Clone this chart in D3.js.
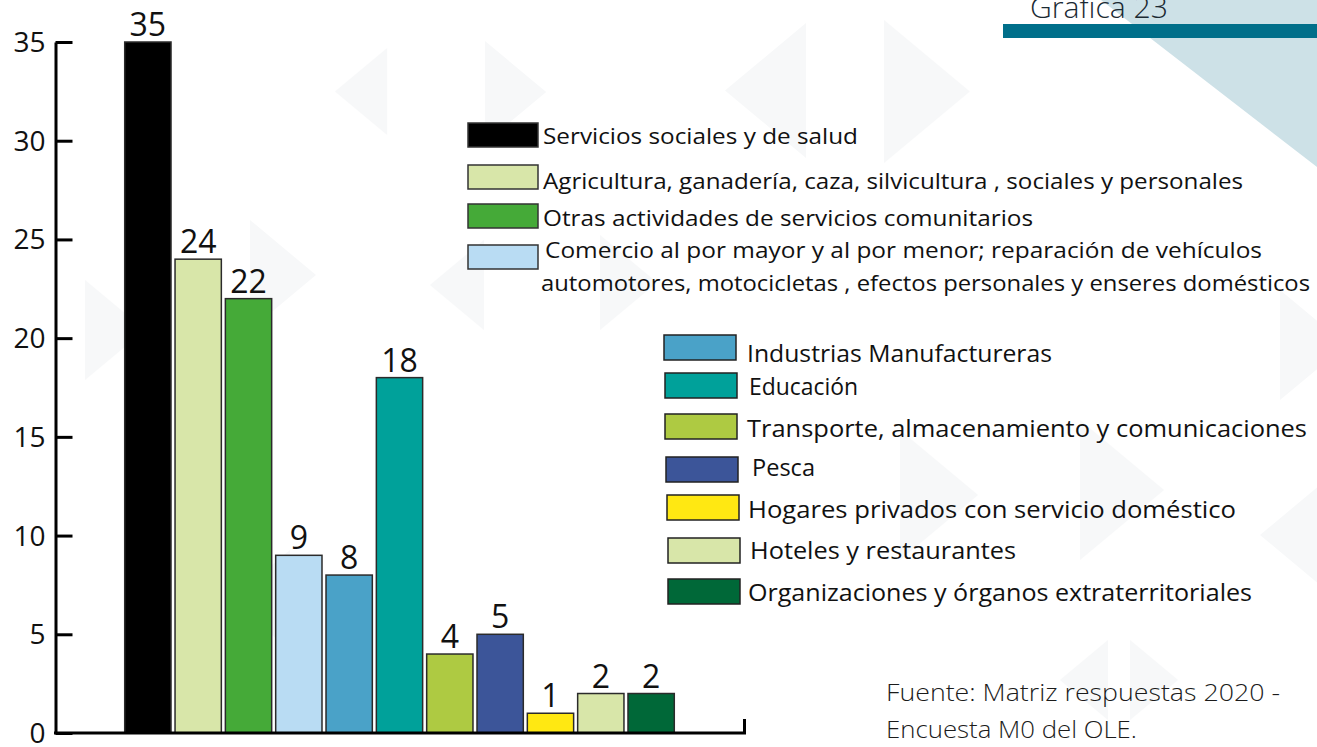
<!DOCTYPE html>
<html>
<head>
<meta charset="utf-8">
<script src="https://cdn.jsdelivr.net/npm/d3@7"></script>
<style>
  html, body { margin: 0; padding: 0; background: #ffffff; }
  svg { display: block; font-family: "Open Sans", "Noto Sans", sans-serif; }
</style>
</head>
<body>
<svg id="chart" width="1317" height="747"></svg>
<script>
// ---- data ----
const categories = [
  "Servicios sociales y de salud",
  "Agricultura, ganadería, caza, silvicultura , sociales y personales",
  "Otras actividades de servicios comunitarios",
  "Comercio al por mayor y al por menor;  reparación de vehículos automotores, motocicletas , efectos personales y enseres domésticos",
  "Industrias Manufactureras",
  "Educación",
  "Transporte, almacenamiento y comunicaciones",
  "Pesca",
  "Hogares privados con servicio doméstico",
  "Hoteles y restaurantes",
  "Organizaciones y órganos extraterritoriales"
];
const values = [35, 24, 22, 9, 8, 18, 4, 5, 1, 2, 2];
const colors = ["#000000", "#d8e6a9", "#45aa38", "#b9dcf3", "#4aa2c8", "#00a19a",
                "#aeca42", "#3c5599", "#ffe812", "#d8e6a9", "#006838"];
const yTicks = [0, 5, 10, 15, 20, 25, 30, 35];
const legendLines1 = [
  ["Servicios sociales y de salud"],
  ["Agricultura, ganadería, caza, silvicultura , sociales y personales"],
  ["Otras actividades de servicios comunitarios"],
  ["Comercio al por mayor y al por menor;  reparación de vehículos",
   "automotores, motocicletas , efectos personales y enseres domésticos"]
];
const legendLines2 = [
  "Industrias Manufactureras",
  "Educación",
  "Transporte, almacenamiento y comunicaciones",
  "Pesca",
  "Hogares privados con servicio doméstico",
  "Hoteles y restaurantes",
  "Organizaciones y órganos extraterritoriales"
];
const titleText = "Gráfica 23";
const sourceLines = ["Fuente:  Matriz respuestas 2020 -", "Encuesta M0 del OLE."];

// ---- layout ----
const svg = d3.select("#chart");
const axisX = 55.5, plotRight = 746, yTop = 42, yBottom = 733;

// decoration: faint triangles
const deco = svg.append("g");
const tri = [
  {x: 335, y0: 48, y1: 135, dir: -1}, {x: 485, y0: 41, y1: 143, dir: 1},
  {x: 725, y0: 23, y1: 158, dir: -1}, {x: 884, y0: 20, y1: 163, dir: 1},
  {x: 250, y0: 220, y1: 330, dir: 1}, {x: 430, y0: 240, y1: 330, dir: -1},
  {x: 600, y0: 235, y1: 330, dir: 1}, {x: 85, y0: 280, y1: 380, dir: 1},
  {x: 230, y0: 550, y1: 650, dir: -1}, {x: 900, y0: 430, y1: 560, dir: 1},
  {x: 1080, y0: 420, y1: 560, dir: 1}, {x: 1260, y0: 470, y1: 600, dir: -1},
  {x: 1060, y0: 640, y1: 720, dir: -1}, {x: 1130, y0: 640, y1: 720, dir: 1},
  {x: 1280, y0: 290, y1: 400, dir: 1}
];
tri.forEach(t => {
  const h = t.y1 - t.y0, w = h * 0.6;
  let pts;
  if (t.dir > 0) pts = [[t.x, t.y0], [t.x + w, (t.y0 + t.y1) / 2], [t.x, t.y1]];
  else pts = [[t.x + w, t.y0], [t.x, (t.y0 + t.y1) / 2], [t.x + w, t.y1]];
  deco.append("polygon").attr("points", pts.map(p => p.join(",")).join(" "))
    .attr("fill", "#f7f8f9");
});

// top-right corner shape and band
svg.append("polygon").attr("points", "1101,0 1317,0 1317,167").attr("fill", "#cde1e7");
svg.append("rect").attr("x", 1003).attr("y", 24).attr("width", 314).attr("height", 14).attr("fill", "#006f8a");
svg.append("text").attr("x", 1030).attr("y", 18).attr("font-size", 29).attr("font-weight", 300)
  .attr("fill", "#1b2a33").attr("textLength", 138).attr("lengthAdjust", "spacingAndGlyphs").text(titleText);

// scales
const x = d3.scaleBand().domain(categories).range([122.7, 676.3]).paddingInner(0.08).paddingOuter(0.04);
const y = d3.scaleLinear().domain([0, 35]).range([yBottom, yTop]);

// bars
svg.append("g").selectAll("rect").data(values).join("rect")
  .attr("x", (d, i) => x(categories[i]))
  .attr("y", d => y(d))
  .attr("width", x.bandwidth())
  .attr("height", d => y(0) - y(d))
  .attr("fill", (d, i) => colors[i])
  .attr("stroke", "#2b2b2b")
  .attr("stroke-width", 1.5);

// value labels
svg.append("g").selectAll("text").data(values).join("text")
  .attr("x", (d, i) => x(categories[i]) + x.bandwidth() / 2)
  .attr("y", d => y(d) - 6)
  .attr("text-anchor", "middle")
  .attr("font-size", 32)
  .attr("fill", "#111")
  .text(d => d);

// y axis
const yAxis = d3.axisLeft(y).tickValues(yTicks).tickSizeInner(-17).tickSizeOuter(0).tickPadding(10);
const gy = svg.append("g").attr("transform", `translate(${axisX},0)`).call(yAxis);
gy.select(".domain").attr("stroke", "#000").attr("stroke-width", 3);
gy.selectAll(".tick line").attr("stroke", "#000").attr("stroke-width", 3);
gy.selectAll(".tick text").attr("font-size", 28).attr("fill", "#111")
  .attr("font-family", "'Open Sans', sans-serif").attr("dy", "0.34em");

// baseline
svg.append("line").attr("x1", axisX - 1.5).attr("x2", plotRight).attr("y1", y(0)).attr("y2", y(0))
  .attr("stroke", "#000").attr("stroke-width", 3);
svg.append("line").attr("x1", plotRight - 1.5).attr("x2", plotRight - 1.5).attr("y1", y(0)).attr("y2", y(0) - 14)
  .attr("stroke", "#000").attr("stroke-width", 3);

// legend group 1
const lg1 = [
  {sy: 123, base: [144], tx: 543, len: [315]},
  {sy: 165, base: [189], tx: 543, len: [700]},
  {sy: 204, base: [226], tx: 543, len: [490]},
  {sy: 245, base: [258, 291], tx: [545, 541], len: [717, 769]}
];
lg1.forEach((l, i) => {
  svg.append("rect").attr("x", 468).attr("y", l.sy).attr("width", 70).attr("height", 24)
    .attr("fill", colors[i]).attr("stroke", "#333").attr("stroke-width", 1.5);
  legendLines1[i].forEach((t, j) => {
    const tx = Array.isArray(l.tx) ? l.tx[j] : l.tx;
    svg.append("text").attr("x", tx).attr("y", l.base[j]).attr("font-size", 22).attr("fill", "#111")
      .attr("textLength", l.len[j]).attr("lengthAdjust", "spacingAndGlyphs").text(t);
  });
});

// legend group 2
const lg2 = [
  {sx: 664, sy: 335, tx: 747, base: 362, len: 305},
  {sx: 665, sy: 373, tx: 749, base: 395, len: 109},
  {sx: 665, sy: 414, tx: 747, base: 437, len: 560},
  {sx: 666, sy: 457, tx: 752, base: 476, len: 63},
  {sx: 667, sy: 495, tx: 748, base: 518, len: 488},
  {sx: 668, sy: 538, tx: 750, base: 559, len: 266},
  {sx: 668, sy: 579, tx: 748, base: 601, len: 504}
];
lg2.forEach((l, i) => {
  svg.append("rect").attr("x", l.sx).attr("y", l.sy).attr("width", 72).attr("height", 25)
    .attr("fill", colors[i + 4]).attr("stroke", "#222").attr("stroke-width", 1.5);
  svg.append("text").attr("x", l.tx).attr("y", l.base).attr("font-size", 24).attr("fill", "#111")
    .attr("textLength", l.len).attr("lengthAdjust", "spacingAndGlyphs").text(legendLines2[i]);
});

// source note
svg.append("text").attr("x", 886).attr("y", 701).attr("font-size", 23).attr("font-weight", 300)
  .attr("fill", "#1b1b1b").attr("textLength", 394).attr("lengthAdjust", "spacingAndGlyphs").text(sourceLines[0]);
svg.append("text").attr("x", 886).attr("y", 738).attr("font-size", 23).attr("font-weight", 300)
  .attr("fill", "#1b1b1b").attr("textLength", 251).attr("lengthAdjust", "spacingAndGlyphs").text(sourceLines[1]);
</script>
</body>
</html>
